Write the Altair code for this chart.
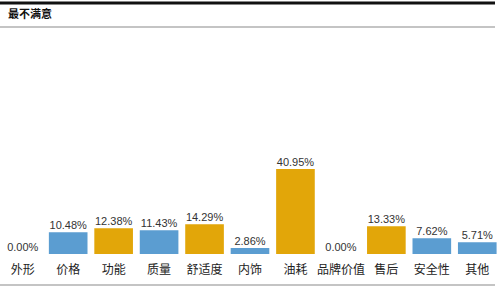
import altair as alt
import pandas as pd

categories = ["外形", "价格", "功能", "质量", "舒适度", "内饰", "油耗", "品牌价值", "售后", "安全性", "其他"]
values = [0.00, 10.48, 12.38, 11.43, 14.29, 2.86, 40.95, 0.00, 13.33, 7.62, 5.71]
groups = ["A", "A", "B", "A", "B", "A", "B", "A", "B", "A", "A"]
title_text = "最不满意"

df = pd.DataFrame({
    "cat": categories,
    "val": values,
    "grp": groups,
    "lbl": [f"{v:.2f}%" for v in values],
})

W, H = 500, 288
x = alt.X("cat:N", sort=categories, axis=None,
          scale=alt.Scale(range=[0, 500], paddingInner=0.15, paddingOuter=0.075))
yscale = alt.Scale(domain=[0, 50], range=[254, 254 - 50 * 2.076])

base = alt.Chart(df)

bars = base.mark_bar().encode(
    x=x,
    y=alt.Y("val:Q", scale=yscale, axis=None),
    y2=alt.datum(0),
    color=alt.Color("grp:N", scale=alt.Scale(domain=["A", "B"], range=["#5b9dd1", "#e2a609"]), legend=None),
)

vlabels = base.mark_text(baseline="bottom", dy=-1, fontSize=11, font="Liberation Sans", color="#333333").encode(
    x=x,
    y=alt.Y("val:Q", scale=yscale, axis=None),
    text="lbl:N",
)

clabels = base.mark_text(baseline="middle", fontSize=12, font="Noto Sans CJK SC", color="#222222").encode(
    x=x,
    y=alt.value(270),
    text="cat:N",
)

tdf = pd.DataFrame({"t": [title_text]})
title = alt.Chart(tdf).mark_text(align="left", baseline="middle", fontSize=11, fontWeight="bold",
                                 font="Noto Sans CJK SC", color="#111111").encode(
    x=alt.value(8), y=alt.value(15), text="t:N")

top_rule = alt.Chart(tdf).mark_rule(color="#111111", strokeWidth=3).encode(
    x=alt.value(0), x2=alt.value(495), y=alt.value(3))
mid_rule = alt.Chart(tdf).mark_rule(color="#b0b0b0", strokeWidth=1.5).encode(
    x=alt.value(0), x2=alt.value(495), y=alt.value(27))
bot_rule = alt.Chart(tdf).mark_rule(color="#b0b0b0", strokeWidth=1.5).encode(
    x=alt.value(0), x2=alt.value(495), y=alt.value(285))

chart = alt.layer(top_rule, mid_rule, bot_rule, title, bars, vlabels, clabels).properties(
    width=W, height=H, padding=0, autosize=alt.AutoSizeParams(type="none"),
    background="white",
).configure_view(stroke=None)

chart.save("out.html", embed_options={"renderer": "svg", "actions": False})
